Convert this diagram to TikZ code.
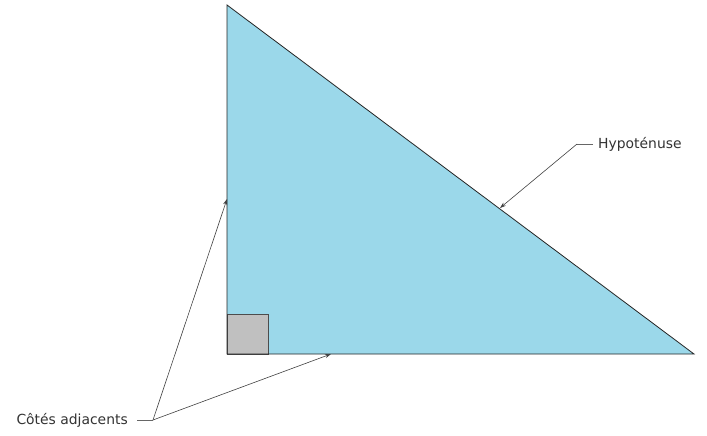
\documentclass[tikz,border=0pt]{standalone}
\usepackage{fontspec}
\setmainfont{DejaVu Sans}
\usetikzlibrary{arrows.meta}
\definecolor{bleuclair}{HTML}{9BD8EA}
\definecolor{grisangle}{HTML}{C0C0C0}
\definecolor{grisfil}{HTML}{404040}
\begin{document}
\begin{tikzpicture}[x=1pt,y=-1pt,
  etiquette/.style={inner sep=0pt, font=\fontsize{13.9}{16}\selectfont, text=black!80},
  fleche/.style={draw=grisfil, line width=0.6pt, -{Stealth[length=6pt,width=4pt]}},
  amorce/.style={draw=grisfil!80, line width=1pt}]
\useasboundingbox (0,0) rectangle (707,436);
\coordinate (Sommet) at (227,5);
\coordinate (Droit) at (227,354);
\coordinate (Pointe) at (694,354);
\fill[bleuclair] (Sommet) -- (Droit) -- (Pointe) -- cycle;
\draw[fill=grisangle, draw=black!70, line width=0.8pt] (227,314) rectangle (268,354);
\draw[black!85, line width=0.8pt] (Sommet) -- (Droit) -- (Pointe) -- cycle;
\node[etiquette, anchor=west] (Hypo) at (598,144) {Hypoténuse};
\node[etiquette, anchor=east] (Cotes) at (128,420) {Côtés adjacents};
\coordinate (Hcoude) at (577,144);
\coordinate (Ccoude) at (153,420);
\coordinate (Hbout) at (500,208);
\coordinate (Vbout) at (227,199);
\coordinate (Bbout) at (331,354);
\draw[amorce] ([xshift=-5pt]Hypo.west) -- (Hcoude);
\draw[fleche] (Hcoude) -- (Hbout);
\draw[amorce] ([xshift=9pt]Cotes.east) -- (Ccoude);
\draw[fleche] (Ccoude) -- (Vbout);
\draw[fleche] (Ccoude) -- (Bbout);
\end{tikzpicture}
\end{document}
